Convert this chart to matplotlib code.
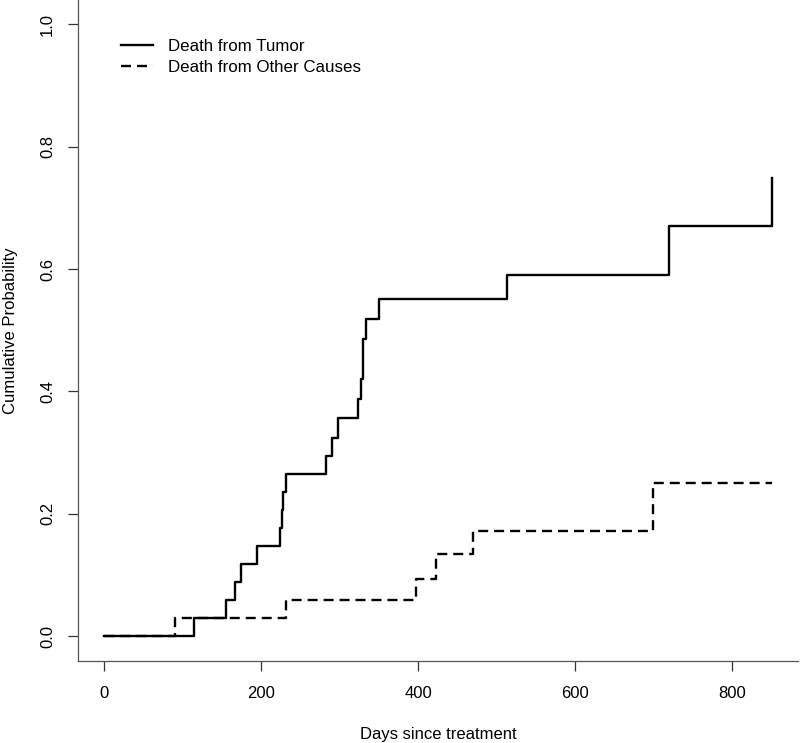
import matplotlib
matplotlib.use("Agg")
import matplotlib.pyplot as plt

plt.rcParams['font.family'] = ['Liberation Sans', 'DejaVu Sans']
plt.rcParams['lines.scale_dashes'] = False

# cumulative incidence, death from tumor (step times in days)
tumor_days = [0, 114, 155, 166, 174, 194, 224, 226, 228, 232, 282, 290, 298,
              323, 327, 330, 333, 350, 513, 719, 850]
tumor_prob = [0.0, 0.029, 0.059, 0.088, 0.118, 0.147, 0.176, 0.206, 0.235,
              0.265, 0.294, 0.324, 0.356, 0.388, 0.421, 0.486, 0.519, 0.551,
              0.591, 0.670, 0.749]

# cumulative incidence, death from other causes
other_days = [0, 90, 232, 397, 423, 469, 699, 850]
other_prob = [0.0, 0.029, 0.059, 0.093, 0.134, 0.172, 0.251, 0.251]

x_ticks = [0, 200, 400, 600, 800]
y_ticks = [0.0, 0.2, 0.4, 0.6, 0.8, 1.0]

fig = plt.figure(figsize=(8, 7.43), dpi=100)
ax = fig.add_axes([0.097, 0.111, 0.901, 0.889])

ax.step(other_days, other_prob, where='post', color='black', lw=1.7,
        dashes=[7.2, 4.3], label='Death from Other Causes')
ax.step(tumor_days, tumor_prob, where='post', color='black', lw=1.7,
        label='Death from Tumor')

ax.set_xlim(-34, 884)
ax.set_ylim(-0.04, 1.04)
ax.set_xticks(x_ticks)
ax.set_yticks(y_ticks)
ax.set_yticklabels([f"{v:.1f}" for v in y_ticks], rotation=90, va='center')

for s in ['top', 'right']:
    ax.spines[s].set_visible(False)
for s in ['left', 'bottom']:
    ax.spines[s].set_color('#555555')
    ax.spines[s].set_linewidth(0.9)
ax.tick_params(direction='out', length=7.2, width=0.9, color='#333333',
               labelsize=12)
ax.tick_params(axis='x', pad=11)
ax.tick_params(axis='y', pad=9)

ax.set_xlabel('Days since treatment', fontsize=12, labelpad=19)
ax.set_ylabel('Cumulative Probability', fontsize=12, labelpad=16)

handles, labels = ax.get_legend_handles_labels()
ax.legend(handles[::-1], labels[::-1], loc='upper left', frameon=False,
          fontsize=12.2, handlelength=1.9, handletextpad=0.9,
          labelspacing=0.33, bbox_to_anchor=(0.039, 0.964))

fig.savefig('out.png', dpi=100)
